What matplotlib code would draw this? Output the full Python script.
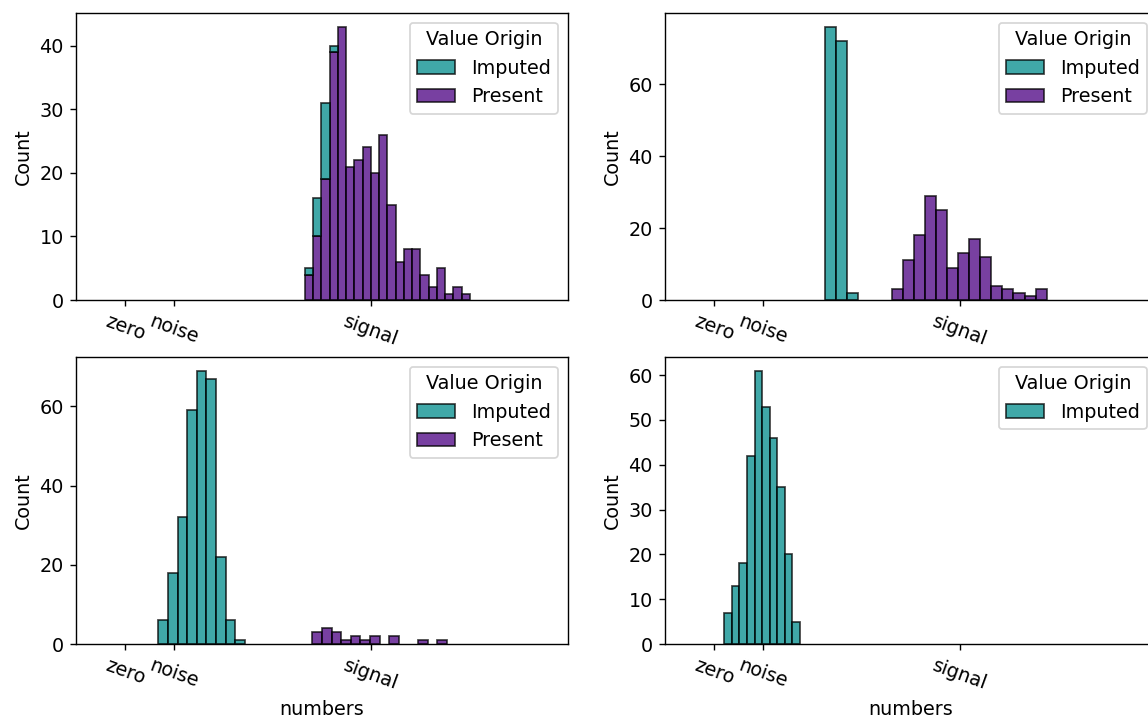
import numpy as np
import matplotlib
matplotlib.use("Agg")
import matplotlib.pyplot as plt
from matplotlib.patches import Patch
from matplotlib.ticker import MultipleLocator

# Tick positions on the shared numeric axis
tick_values = [0, 1, 5]
tick_labels = ["zero", "noise", "signal"]

# Panel A (top left): 20 shared bins
a_range = (3.657, 7.013)
a_imputed = [1, 6, 12, 1, 0, 0, 0, 0, 0, 0, 0, 0, 0, 0, 0, 0, 0, 0, 0, 0]
a_present = [4, 10, 19, 39, 43, 21, 22, 24, 20, 26, 15, 6, 8, 8, 4, 2, 5, 1, 2, 1]

# Panel B (top right): 20 shared bins
b_range = (2.254, 6.763)
b_imputed = [76, 72, 2, 0, 0, 0, 0, 0, 0, 0, 0, 0, 0, 0, 0, 0, 0, 0, 0, 0]
b_present = [0, 0, 0, 0, 0, 0, 3, 11, 18, 29, 25, 9, 13, 17, 12, 4, 3, 2, 1, 3]

# Panel C (bottom left): 30 shared bins
c_range = (0.674, 6.545)
c_imputed = [6, 18, 32, 59, 69, 67, 22, 6, 1, 0, 0, 0, 0, 0, 0,
             0, 0, 0, 0, 0, 0, 0, 0, 0, 0, 0, 0, 0, 0, 0]
c_present = [0, 0, 0, 0, 0, 0, 0, 0, 0, 0, 0, 0, 0, 0, 0,
             0, 3, 4, 3, 1, 2, 1, 2, 0, 2, 0, 0, 1, 0, 1]

# Panel D (bottom right): imputed values only, 10 bins
d_range = (0.206, 1.746)
d_imputed = [7, 13, 18, 42, 61, 53, 46, 35, 20, 5]
d_present = None

hue_colors = {"Imputed": "darkcyan", "Present": "indigo"}
ALPHA = 0.75

plt.rcParams["font.family"] = ["DejaVu Sans"]
plt.rcParams["font.size"] = 11

W, H, DPI = 1148, 721, 125
fig = plt.figure(figsize=(W / DPI, H / DPI), dpi=DPI)

ax_w = 491.7 / W
ax_h = 287 / H
lefts = [76 / W, 665 / W]
bottoms = [(H - 300) / H, (H - 644) / H]

panels = [
    (a_range, a_imputed, a_present, 0, 0, 10),
    (b_range, b_imputed, b_present, 0, 1, 20),
    (c_range, c_imputed, c_present, 1, 0, 20),
    (d_range, d_imputed, d_present, 1, 1, 10),
]

for rng, imputed, present, row, col, ystep in panels:
    ax = fig.add_axes([lefts[col], bottoms[row], ax_w, ax_h])
    n = len(imputed)
    edges = np.linspace(rng[0], rng[1], n + 1)
    width = edges[1] - edges[0]
    imp = np.array(imputed, dtype=float)
    pres = np.zeros(n) if present is None else np.array(present, dtype=float)

    # Stacked histogram: present values at the base, imputed on top
    if present is not None:
        m = pres > 0
        ax.bar(edges[:-1][m], pres[m], width=width, align="edge",
               color=hue_colors["Present"], alpha=ALPHA,
               edgecolor="black", linewidth=1.0)
    m = imp > 0
    ax.bar(edges[:-1][m], imp[m], width=width, bottom=pres[m], align="edge",
           color=hue_colors["Imputed"], alpha=ALPHA,
           edgecolor="black", linewidth=1.0)

    ax.set_xlim(-1, 9)
    ax.set_ylim(0, (imp + pres).max() * 1.05)
    ax.yaxis.set_major_locator(MultipleLocator(ystep))
    ax.set_xticks(tick_values)
    ax.set_xticklabels(tick_labels, rotation=-20)
    ax.set_ylabel("Count")
    if row == 1:
        ax.set_xlabel("numbers")

    handles = [Patch(facecolor=hue_colors["Imputed"], edgecolor="black",
                     alpha=ALPHA, label="Imputed")]
    if present is not None:
        handles.append(Patch(facecolor=hue_colors["Present"], edgecolor="black",
                             alpha=ALPHA, label="Present"))
    ax.legend(handles=handles, title="Value Origin", loc="upper right")

fig.savefig("out.png", dpi=DPI)
